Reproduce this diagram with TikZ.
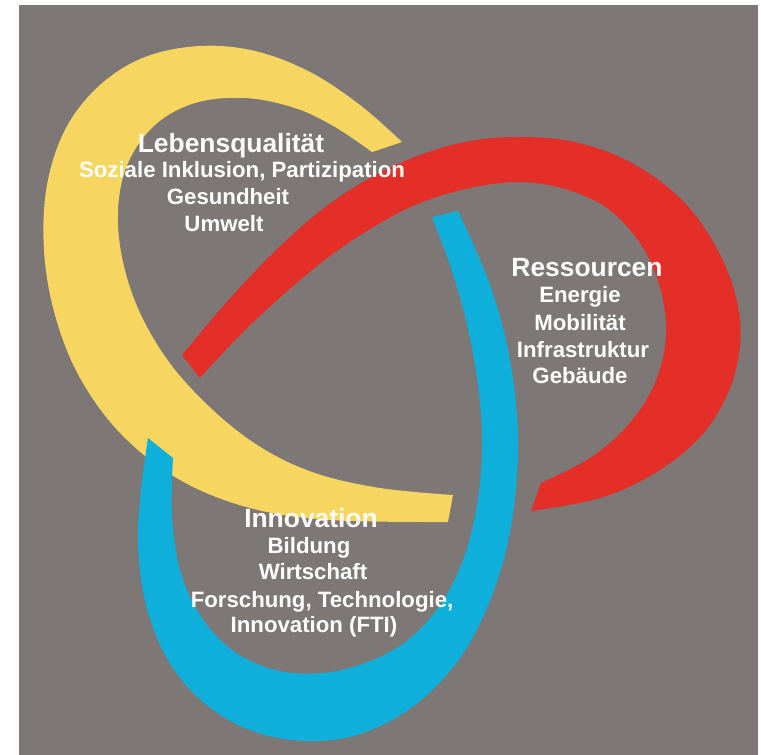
\documentclass[tikz,border=0pt]{standalone}
\usepackage{fontspec}
\setmainfont{Liberation Sans}
\definecolor{panelgrey}{RGB}{125,119,118}
\definecolor{lifeyellow}{RGB}{246,214,96}
\definecolor{resred}{RGB}{227,47,40}
\definecolor{innoblue}{RGB}{14,175,218}
\begin{document}
\begin{tikzpicture}[x=1bp,y=-1bp,
  bandY/.style={fill=lifeyellow},
  bandR/.style={fill=resred},
  bandB/.style={fill=innoblue},
  edge/.style={smooth,tension=0.6},
  head/.style={text=white,inner sep=0pt,anchor=base,font=\bfseries\fontsize{26.5}{30}\selectfont},
  item/.style={text=white,inner sep=0pt,anchor=base,font=\bfseries\fontsize{22.3}{26}\selectfont}]
% page and grey panel
\useasboundingbox (0,0) rectangle (761,755);
\fill[white] (0,0) rectangle (761,755);
\fill[panelgrey] (19,5) rectangle (758,755);

% yellow band (Lebensqualitaet)
\fill[bandY] plot[edge] coordinates {(402,142) (360,105) (310,72) (255,51) (200,46) (145,57) (100,85) (66,128) (47,185) (44,250) (55,315) (80,378) (122,435) (180,480) (250,508) (330,520) (448,522)}
  -- plot[edge] coordinates {(453,495) (380,488) (315,473) (262,448) (215,412) (172,366) (141,315) (123,262) (118,210) (128,163) (155,125) (195,103) (245,98) (295,108) (335,127) (372,152)}
  -- cycle;

% red band (Ressourcen)
\fill[bandR] plot[edge] coordinates {(182,355) (225,304) (270,256) (320,211) (370,178) (420,155) (470,141) (520,137) (575,142) (630,162) (680,198) (715,245) (736,297) (740,345) (728,393) (700,437) (655,473) (600,498) (531,511)}
  -- plot[edge] coordinates {(541,483) (590,458) (628,425) (655,383) (666,335) (660,287) (640,243) (607,208) (565,189) (520,182) (470,188) (420,203) (375,226) (330,256) (285,293) (240,335) (200,378)}
  -- cycle;

% blue band (Innovation)
\fill[bandB] plot[edge] coordinates {(458,211) (490,285) (510,360) (518,440) (512,520) (494,590) (462,655) (415,705) (360,734) (305,741) (250,730) (203,702) (168,660) (146,605) (138,545) (141,490) (148,438)}
  -- plot[edge] coordinates {(173,458) (172,515) (180,570) (200,615) (232,650) (275,670) (322,673) (368,662) (408,640) (440,605) (463,560) (477,505) (482,445) (478,385) (466,320) (450,265) (432,217)}
  -- cycle;

% labels
\node[head] (lq)  at (231,152) {Lebensqualität};
\node[item] (lq1) at (242,177) {Soziale Inklusion, Partizipation};
\node[item] (lq2) at (228,204) {Gesundheit};
\node[item] (lq3) at (224,231) {Umwelt};

\node[head] (rs)  at (587,276) {Ressourcen};
\node[item] (rs1) at (580,302) {Energie};
\node[item] (rs2) at (580,330) {Mobilität};
\node[item] (rs3) at (583,357) {Infrastruktur};
\node[item] (rs4) at (580,383) {Gebäude};

\node[head] (in)  at (311,527) {Innovation};
\node[item] (in1) at (309,553) {Bildung};
\node[item] (in2) at (313,579) {Wirtschaft};
\node[item] (in3) at (322,607) {Forschung, Technologie,};
\node[item] (in4) at (314,632) {Innovation (FTI)};
\end{tikzpicture}
\end{document}
